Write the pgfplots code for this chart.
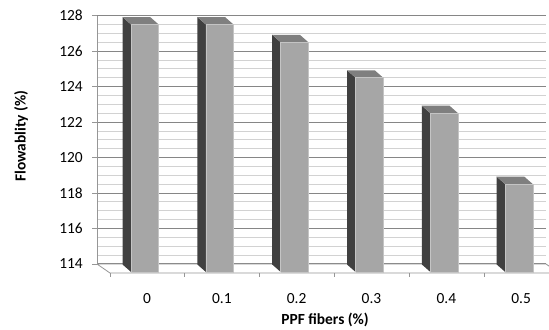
\documentclass[border=0pt]{standalone}
\usepackage{pgfplots}
\pgfplotsset{compat=1.18}
\usepackage{pgfplotstable}
\usepackage{fontspec}
\setmainfont{Carlito}

\definecolor{frontgray}{HTML}{A6A6A6}
\definecolor{sidegray}{HTML}{404040}
\definecolor{topgray}{HTML}{7F7F7F}
\definecolor{frontedge}{HTML}{C4C4C4}
\definecolor{majgrid}{HTML}{868686}
\definecolor{mingrid}{HTML}{D2D2D2}
\definecolor{axgray}{HTML}{969696}

\pgfplotstableread{
x y
0 127.5
1 127.5
2 126.5
3 124.5
4 122.5
5 118.5
}\flowdata

\begin{document}
\begin{tikzpicture}
\begin{axis}[
  width=449bp, height=248.3bp, scale only axis,
  xmin=-0.5, xmax=5.5, ymin=114, ymax=128,
  clip=false, no markers,
  /pgf/number format/assume math mode=true,
  axis line style={draw=none},
  xtick={0.168,1.168,2.168,3.168,4.168,5.168},
  xticklabels={0,0.1,0.2,0.3,0.4,0.5},
  xtick style={draw=none},
  ytick={114,116,...,128},
  minor y tick num=3,
  ytick pos=left,
  tick align=outside,
  major tick length=5bp, minor tick length=0pt,
  ytick style={draw=axgray, line width=0.8bp},
  ymajorgrids, yminorgrids,
  major grid style={draw=majgrid, line width=1.1bp},
  minor grid style={draw=mingrid, line width=0.9bp},
  tick label style={font=\fontsize{15.5}{18}\selectfont},
  xticklabel style={anchor=north, inner sep=0pt, yshift=-24bp},
  yticklabel style={anchor=east, inner sep=0pt, xshift=-9bp},
  label style={font=\bfseries\fontsize{15.5}{18}\selectfont},
  xlabel={PPF fibers (\%)},
  ylabel={Flowablity (\%)},
  xlabel style={at={(axis description cs:0.508,-0.197)}, anchor=north, inner sep=0pt},
  ylabel style={at={(axis description cs:-0.169,0.5155)}, anchor=center, inner sep=0pt},
]
% left axis line
\addplot[axgray, line width=1bp] coordinates {(-0.5,114) (-0.5,128)};
% floor
\addplot[fill=white, draw=axgray, line width=0.8bp] coordinates {(-0.5,114) (5.5,114) (5.674,113.49) (-0.326,113.49) (-0.5,114)};
% x tick marks on the front edge of the floor
\addplot[axgray, line width=0.8bp, unbounded coords=jump] coordinates {
 (-0.326,113.49) (-0.326,113.265) (-0.326,nan)
 (0.674,113.49) (0.674,113.265) (0.674,nan)
 (1.674,113.49) (1.674,113.265) (1.674,nan)
 (2.674,113.49) (2.674,113.265) (2.674,nan)
 (3.674,113.49) (3.674,113.265) (3.674,nan)
 (4.674,113.49) (4.674,113.265) (4.674,nan)
 (5.674,113.49) (5.674,113.265)
};
% 3D bars
\pgfplotsinvokeforeach{0,...,5}{%
  \pgfplotstablegetelem{#1}{y}\of\flowdata
  \pgfmathsetmacro\v{\pgfplotsretval}%
  \pgfmathsetmacro\xl{#1-0.045}%
  \pgfmathsetmacro\xr{#1+0.325}%
  \pgfmathsetmacro\bxl{#1-0.045-0.114}%
  \pgfmathsetmacro\bxr{#1+0.325-0.114}%
  \pgfmathsetmacro\vt{\v+0.423}%
  \def\yb{113.55}%
  \def\ybt{113.973}%
  \edef\temp{%
    \noexpand\addplot[fill=sidegray, draw=none] coordinates {(\xl,\yb) (\xl,\v) (\bxl,\vt) (\bxl,\ybt) (\xl,\yb)};
    \noexpand\addplot[fill=topgray, draw=none] coordinates {(\xl,\v) (\xr,\v) (\bxr,\vt) (\bxl,\vt) (\xl,\v)};
    \noexpand\addplot[fill=frontgray, draw=frontedge, line width=0.6bp] coordinates {(\xl,\yb) (\xr,\yb) (\xr,\v) (\xl,\v) (\xl,\yb)};
  }\temp
}
\end{axis}
\pgfresetboundingbox
\path[use as bounding box] ([xshift=-97bp,yshift=-65bp]current axis.south west) rectangle ([xshift=3bp,yshift=15.7bp]current axis.north east);
\end{tikzpicture}
\end{document}
